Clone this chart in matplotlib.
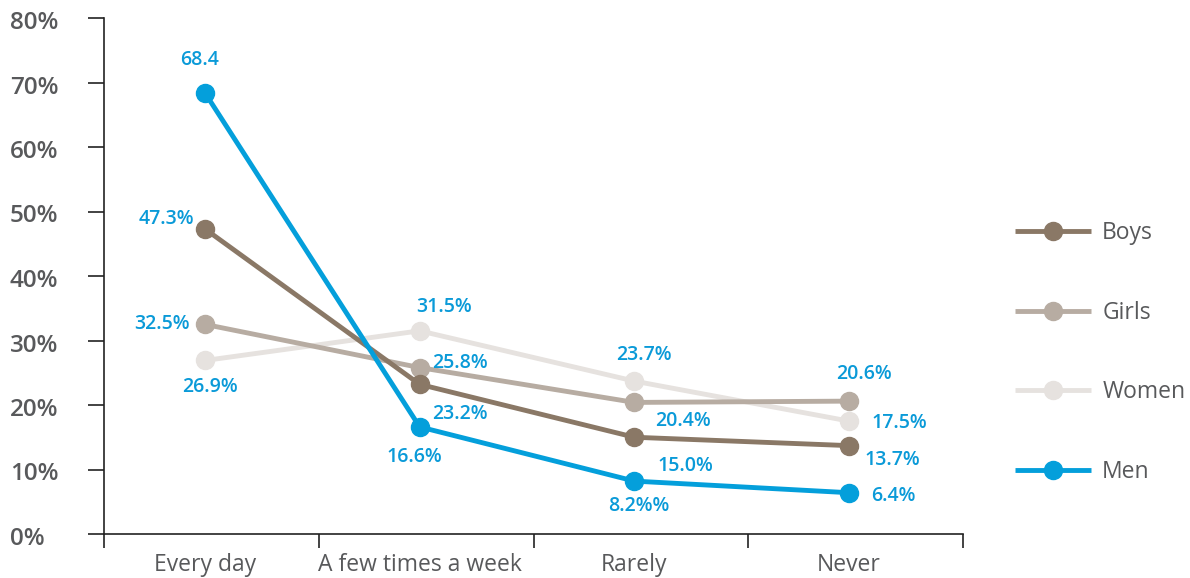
import matplotlib
matplotlib.use('Agg')
import matplotlib.pyplot as plt
from matplotlib.transforms import blended_transform_factory, ScaledTranslation


# data
categories = ['Every day', 'A few times a week', 'Rarely', 'Never']
series_names = ['Boys', 'Girls', 'Women', 'Men']
boys = [47.3, 23.2, 15.0, 13.7]
girls = [32.5, 25.8, 20.4, 20.6]
women = [26.9, 31.5, 23.7, 17.5]
men = [68.4, 16.6, 8.2, 6.4]
yticks = [0, 10, 20, 30, 40, 50, 60, 70, 80]

boys_labels = ['47.3%', '23.2%', '15.0%', '13.7%']
girls_labels = ['32.5%', '25.8%', '20.4%', '20.6%']
women_labels = ['26.9%', '31.5%', '23.7%', '17.5%']
men_labels = ['68.4', '16.6%', '8.2%%', '6.4%']

# style
colors = {'Boys': '#8a7866', 'Girls': '#b7aca2', 'Women': '#e6e2df', 'Men': '#049fdb'}
label_color = '#0a9ad8'
text_color = '#58595b'

# label offsets in pixels (dx, dy, ha) per series / category
offsets = {
    'Boys':  [(-11, 10, 'right'), (12, -30, 'left'), (23, -29, 'left'), (15, -14, 'left')],
    'Girls': [(-15, 0, 'right'), (12, 5, 'left'), (21, -19, 'left'), (15, 27, 'center')],
    'Women': [(5, -27, 'center'), (24, 24, 'center'), (9, 26, 'center'), (22, -2, 'left')],
    'Men':   [(-5, 33, 'center'), (-5, -30, 'center'), (4, -25, 'center'), (22, -3, 'left')],
}

plt.rcParams['font.family'] = ['Open Sans', 'DejaVu Sans']

fig = plt.figure(figsize=(11.9, 5.78), dpi=100)
ax = fig.add_axes([104 / 1190, 1 - 534 / 578, (963 - 104) / 1190, (534 - 18) / 578])

data = {'Boys': boys, 'Girls': girls, 'Women': women, 'Men': men}
labels = {'Boys': boys_labels, 'Girls': girls_labels, 'Women': women_labels, 'Men': men_labels}
zorders = {'Women': 2, 'Girls': 3, 'Boys': 4, 'Men': 5}
x = list(range(len(categories)))

handles = {}
for name in series_names:
    line, = ax.plot(x, data[name], color=colors[name], lw=3.5, marker='o', ms=13,
                    zorder=zorders[name], solid_capstyle='butt', clip_on=False, label=name)
    handles[name] = line
    for i, (v, t) in enumerate(zip(data[name], labels[name])):
        dx, dy, ha = offsets[name][i]
        ax.annotate(t, (x[i], v), xytext=(dx, dy), textcoords='offset pixels',
                    ha=ha, va='center', color=label_color, fontsize=14,
                    fontweight='semibold', zorder=6)

# first category sits a bit left of its slot centre
x0 = -0.47
ax.set_xlim(x0, x0 + len(categories))
ax.set_ylim(0, 80)

for s in ['top', 'right']:
    ax.spines[s].set_visible(False)
for s in ['left', 'bottom']:
    ax.spines[s].set_linewidth(1.2)
    ax.spines[s].set_color('#222222')

# category labels at centers, boundary ticks as minor ticks
ax.set_xticks(x)
ax.set_xticklabels(categories, fontsize=16.5, color=text_color)
ax.tick_params(axis='x', which='major', length=0, pad=14)
ax.set_xticks([x0 + i for i in range(len(categories) + 1)], minor=True)
ax.tick_params(axis='x', which='minor', length=10, width=1.2, color='#222222', direction='out')

ax.set_yticks(yticks)
ax.set_yticklabels([])
ax.tick_params(axis='y', length=11.5, width=1.2, color='#222222', direction='out')

trans = blended_transform_factory(fig.transFigure, ax.transData) + \
    ScaledTranslation(0, -5 / 100, fig.dpi_scale_trans)
for t in yticks:
    fig.text(10 / 1190, t, f'{t}%', transform=trans, ha='left', va='center',
             fontsize=17.5, fontweight='semibold', color=text_color)

leg = ax.legend([handles[n] for n in series_names], series_names, loc='center left',
                bbox_to_anchor=(1.05, 0.352), frameon=False, fontsize=16.5,
                labelspacing=2.42, handlelength=3.3, handletextpad=0.5,
                borderaxespad=0)
for t in leg.get_texts():
    t.set_color(text_color)

fig.savefig('out.png', dpi=100)
